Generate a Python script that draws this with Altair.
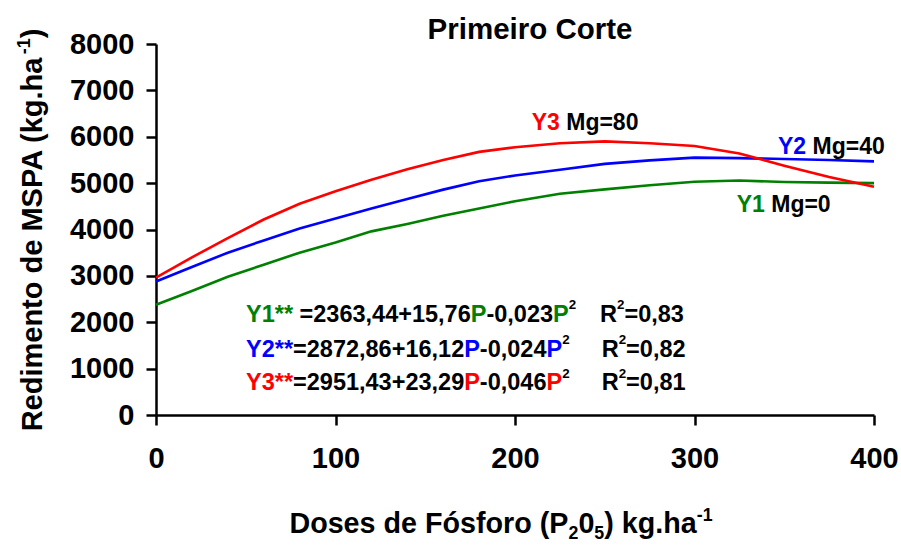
import altair as alt
import pandas as pd

# Phosphorus doses (kg/ha) and shoot dry matter yield for each Mg level
doses = [0, 20, 40, 60, 80, 100, 120, 140, 160, 180, 200, 225, 250, 275, 300, 325, 350, 375, 400]
y1_mg0 = [2378, 2675, 2980, 3242, 3500, 3720, 3960, 4120, 4295, 4455, 4608, 4770, 4865, 4955, 5030, 5055, 5025, 5010, 5000]
y2_mg40 = [2880, 3190, 3500, 3765, 4020, 4235, 4455, 4660, 4860, 5040, 5165, 5288, 5415, 5490, 5550, 5540, 5520, 5500, 5470]
y3_mg80 = [2960, 3399, 3815, 4215, 4555, 4825, 5071, 5297, 5500, 5674, 5775, 5860, 5900, 5860, 5800, 5640, 5375, 5130, 4920]

series_names = ["Y1", "Y2", "Y3"]
series_colors = ["#008000", "#0000FF", "#FF0000"]
mg_labels = ["Mg=0", "Mg=40", "Mg=80"]
eq_intercept_slope = ["=2363,44+15,76", "=2872,86+16,12", "=2951,43+23,29"]
eq_quadratic = ["-0,023", "-0,024", "-0,046"]
eq_r2 = ["=0,83", "=0,82", "=0,81"]

x_ticks = [0, 100, 200, 300, 400]
y_ticks = [0, 1000, 2000, 3000, 4000, 5000, 6000, 7000, 8000]

title_text = "Primeiro Corte"
x_title_parts = ["Doses de Fósforo (P", "2", "0", "5", ") kg.ha", "-1"]
y_title_parts = ["Redimento de MSPA (kg.ha", "-1", ")"]

FONT = "Liberation Sans"
W, H = 718, 371
PAD = {"left": 156, "top": 44, "right": 27, "bottom": 130}
X_MAX, Y_MAX = 400, 8000

# Arial/Liberation Sans Bold advance widths (per 1000 em)
ADV = {" ": 278, ",": 278, ".": 278, "+": 584, "-": 333, "=": 584, "*": 389,
       "(": 333, ")": 333, "P": 667, "Y": 667, "R": 722, "M": 833, "S": 667,
       "A": 722, "D": 722, "F": 611, "C": 722, "a": 556, "d": 611, "e": 556,
       "g": 611, "h": 611, "i": 278, "k": 556, "m": 889, "n": 611, "o": 611,
       "r": 389, "s": 556, "t": 333, "f": 333, "ó": 611}


def text_width(s, size):
    return sum(ADV.get(ch, 556) for ch in s) * size / 1000.0


def to_x(px):
    return (px - PAD["left"]) / W * X_MAX


def to_y(py):
    return (PAD["top"] + H - py) / H * Y_MAX


def lay_out(segments, start, base, size, rows, vertical=False,
            small=0.62, raise_=0.62, drop=0.22):
    """Place coloured runs one after another; sup/sub runs are smaller and shifted."""
    pos = start
    for text, color, kind in segments:
        fs = size if kind == "n" else size * small
        shift = 0.0
        if kind == "sup":
            shift = -raise_ * size
        elif kind == "sub":
            shift = drop * size
        lead = len(text) - len(text.lstrip())
        pos += (-1 if vertical else 1) * text_width(text[:lead], fs)
        body = text.strip()
        if vertical:
            rows.append({"x": to_x(base + shift), "y": to_y(pos), "t": body, "c": color, "s": fs})
            pos -= text_width(text[lead:], fs)
        else:
            rows.append({"x": to_x(pos), "y": to_y(base + shift), "t": body, "c": color, "s": fs})
            pos += text_width(text[lead:], fs)


def total_width(segments, size, small=0.62):
    return sum(text_width(t, size if k == "n" else size * small) for t, _, k in segments)


# ---- line data ----
rows_lines = []
for name, vals in zip(series_names, [y1_mg0, y2_mg40, y3_mg80]):
    for p, v in zip(doses, vals):
        rows_lines.append({"P": p, "MSPA": v, "serie": name})
lines_df = pd.DataFrame(rows_lines)

# ---- annotation runs ----
horiz = []
BLACK = "#000000"
EQ_SIZE = 23.5

# series labels next to the curves
label_spots = {"Y3": (531.7, 130.0), "Y2": (778.0, 154.0), "Y1": (736.7, 211.7)}
for name, col, mg in zip(series_names, series_colors, mg_labels):
    sx, sy = label_spots[name]
    lay_out([(name, col, "n"), (" " + mg, BLACK, "n")], sx, sy, 23, horiz)

# regression equations
eq_base = [321.7, 356.7, 390.0]
eq_r2_x = [600.0, 601.7, 601.7]
for i, (name, col) in enumerate(zip(series_names, series_colors)):
    head = name + "**" + (" " if i == 0 else "")
    segs = [(head, col, "n"), (eq_intercept_slope[i], BLACK, "n"), ("P", col, "n"),
            (eq_quadratic[i], BLACK, "n"), ("P", col, "n"), ("2", BLACK, "sup")]
    lay_out(segs, 246.0, eq_base[i], EQ_SIZE, horiz, small=0.57, raise_=0.52)
    lay_out([("R", BLACK, "n"), ("2", BLACK, "sup"), (eq_r2[i], BLACK, "n")],
            eq_r2_x[i], eq_base[i], EQ_SIZE, horiz, small=0.57, raise_=0.52)

# x axis title with sub/superscripts
AX_SIZE = 28.7
xt = [(x_title_parts[0], BLACK, "n"), (x_title_parts[1], BLACK, "sub"),
      (x_title_parts[2], BLACK, "n"), (x_title_parts[3], BLACK, "sub"),
      (x_title_parts[4], BLACK, "n"), (x_title_parts[5], BLACK, "sup")]
xt_w = total_width(xt, AX_SIZE)
lay_out(xt, 501 - xt_w / 2, 533.0, AX_SIZE, horiz, raise_=0.42, drop=0.22)

horiz_df = pd.DataFrame(horiz)

# y axis title, rotated
vert = []
Y_AX_SIZE = 29
yt = [(y_title_parts[0], BLACK, "n"), (y_title_parts[1], BLACK, "sup"), (y_title_parts[2], BLACK, "n")]
yt_w = total_width(yt, Y_AX_SIZE)
lay_out(yt, 230 + yt_w / 2, 42.0, Y_AX_SIZE, vert, vertical=True, raise_=0.42)
vert_df = pd.DataFrame(vert)

title_df = pd.DataFrame([{"x": to_x(530), "y": to_y(39), "t": title_text}])

# ---- chart ----
x_enc = alt.X("P:Q", scale=alt.Scale(domain=[0, X_MAX], nice=False, zero=False),
              axis=alt.Axis(values=x_ticks, format="d", title=None, grid=False, labelFont=FONT,
                            labelFontSize=29, labelFontWeight="bold", labelColor="black",
                            domainColor="black", domainWidth=2.5, tickColor="black",
                            tickWidth=2.5, tickSize=10, labelPadding=19, labelFlush=False))
y_enc = alt.Y("MSPA:Q", scale=alt.Scale(domain=[0, Y_MAX], nice=False),
              axis=alt.Axis(values=y_ticks, format="d", title=None, grid=False, labelFont=FONT,
                            labelFontSize=29, labelFontWeight="bold", labelColor="black",
                            domainColor="black", domainWidth=2.5, tickColor="black",
                            tickWidth=2.5, tickSize=10, labelPadding=12))

lines = alt.Chart(lines_df).mark_line(strokeWidth=2.6).encode(
    x=x_enc, y=y_enc,
    color=alt.Color("serie:N", scale=alt.Scale(domain=series_names, range=series_colors), legend=None),
)

text_h = alt.Chart(horiz_df).mark_text(
    align="left", baseline="alphabetic", font=FONT, fontWeight="bold"
).encode(
    x=alt.X("x:Q"), y=alt.Y("y:Q"), text="t:N",
    color=alt.Color("c:N", scale=None), size=alt.Size("s:Q", scale=None),
)

text_v = alt.Chart(vert_df).mark_text(
    align="left", baseline="alphabetic", font=FONT, fontWeight="bold", angle=270
).encode(
    x=alt.X("x:Q"), y=alt.Y("y:Q"), text="t:N",
    color=alt.Color("c:N", scale=None), size=alt.Size("s:Q", scale=None),
)

title = alt.Chart(title_df).mark_text(
    align="center", baseline="alphabetic", font=FONT, fontWeight="bold", fontSize=29.5, color="black"
).encode(x=alt.X("x:Q"), y=alt.Y("y:Q"), text="t:N")

chart = alt.layer(lines, text_h, text_v, title).properties(
    width=W, height=H,
    autosize=alt.AutoSizeParams(type="none"),
    padding=PAD,
    background="white",
).configure_view(stroke=None)

chart.save("out.html", embed_options={"renderer": "svg", "actions": False})
